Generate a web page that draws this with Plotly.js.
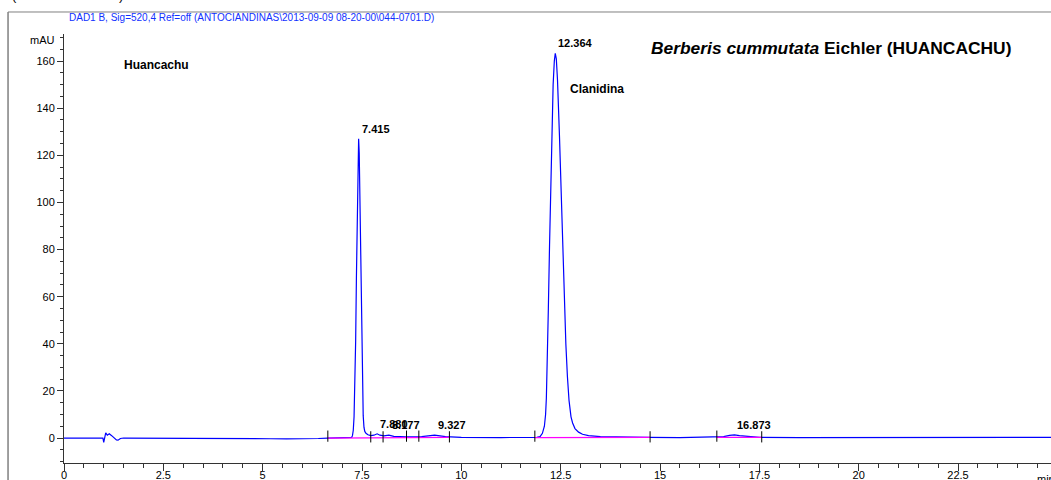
<!DOCTYPE html>
<html>
<head>
<meta charset="utf-8">
<script src="https://cdn.plot.ly/plotly-3.0.1.min.js"></script>
<style>html,body{margin:0;padding:0;background:#fff;}#chart{width:1051px;height:480px;}</style>
</head>
<body>
<div id="chart"></div>
<script>
// Chromatogram signal (retention time in min, absorbance in mAU)
const time = [0, 0.5, 0.98, 1.0, 1.02, 1.05, 1.09, 1.14, 1.2, 1.26, 1.32, 1.36, 1.42, 1.5, 2.0, 3.0, 4.0, 4.8, 5.2, 5.6, 6.0, 6.4, 6.64, 7.0,
  7.2, 7.24, 7.26, 7.28, 7.30, 7.32, 7.34, 7.36, 7.38, 7.40, 7.415, 7.43, 7.45, 7.47, 7.49, 7.51, 7.53, 7.55, 7.57, 7.60, 7.65, 7.72,
  7.80, 7.88, 7.95, 8.05, 8.177, 8.30, 8.6, 9.0, 9.327, 9.6, 10.0, 11.0, 11.6, 11.9, 11.98, 12.04, 12.09, 12.12, 12.14, 12.17, 12.19,
  12.22, 12.26, 12.31, 12.34, 12.364, 12.39, 12.42, 12.47, 12.51, 12.55, 12.59, 12.63, 12.67, 12.71, 12.76, 12.80, 12.86, 12.95, 13.05, 13.2, 13.5,
  14.0, 14.7, 15.5, 16.4, 16.6, 16.75, 16.873, 17.0, 17.2, 17.5, 18.5, 19.6, 20.0, 20.4, 22.0, 23.0, 24.84];
const mAU = [0, 0, 0, -1.8, 0.5, 2.2, 1.2, 1.8, 1.0, 0.2, -0.8, -0.9, -0.2, 0, 0, 0, 0, 0, -0.3, -0.4, -0.4, -0.2, 0, 0,
  0.1, 0.3, 1.0, 3.3, 9, 21, 41, 69, 99, 121, 127, 121, 99, 69, 41, 21, 9.5, 4.5, 2.8, 2.0, 1.4, 1.0,
  1.2, 1.8, 1.2, 0.9, 1.2, 0.7, 0.5, 0.6, 1.2, 0.6, 0.3, 0.2, 0.2, 0.3, 0.6, 2, 5, 10, 17, 35, 55,
  82, 118, 150, 160, 163.3, 161, 152, 128, 104, 82, 60, 40, 26, 16, 9, 6.4, 4, 2.5, 1.6, 1.0, 0.6,
  0.4, 0.3, 0.2, 0.3, 0.6, 1.1, 1.3, 1.0, 0.6, 0.3, 0.2, 0.2, 0.5, 0.2, 0.2, 0.3, 0.3];

// Integration baselines (magenta)
const baseT = [6.64, 9.70, null, 11.85, 14.75, null, 16.43, 17.56];
const baseY = [0, 0.3, null, 0.2, 0.3, null, 0.3, 0.3];

// Integration event marks
const eventT = [6.64, 7.72, 8.03, 8.62, 8.93, 9.70, 11.85, 14.75, 16.43, 17.56];
const eventY = [0.8, 0.5, 0.5, 0.8, 0.8, 0.5, 0.8, 0.5, 0.8, 0.5];

// Peak labels
const peakRT = [7.415, 7.88, 8.177, 9.327, 12.364, 16.873];
const peakH = [127, 1.8, 1.2, 1.2, 163.3, 1.3];

// Axis ticks
const xTickVals = [0, 2.5, 5, 7.5, 10, 12.5, 15, 17.5, 20, 22.5];
const xTickText = ['0', '2.5', '5', '7.5', '10', '12.5', '15', '17.5', '20', '22.5'];
const yTickVals = [0, 20, 40, 60, 80, 100, 120, 140, 160];
const yTickText = ['0', '20', '40', '60', '80', '100', '120', '140', '160'];

const FONT = 'Arial, "Liberation Sans", sans-serif';

const traces = [
  {x: time, y: mAU, type: 'scatter', mode: 'lines', line: {color: '#0000ff', width: 1.2}, hoverinfo: 'skip'},
  {x: baseT, y: baseY, type: 'scatter', mode: 'lines', line: {color: '#ff00ff', width: 1.3}, connectgaps: false, hoverinfo: 'skip'},
  {x: eventT, y: eventY, type: 'scatter', mode: 'markers', marker: {symbol: 'line-ns-open', size: 8, color: '#000', line: {color: '#000', width: 1}}, hoverinfo: 'skip'}
];

const annotations = peakRT.map((rt, i) => ({
  x: rt, y: peakH[i], xref: 'x', yref: 'y', text: rt.toFixed(3), showarrow: false,
  xanchor: 'left', yanchor: 'bottom', xshift: 1, yshift: 2,
  font: {family: FONT, size: 11, color: '#000', weight: 'bold'}
}));

annotations.push(
  {xref: 'paper', yref: 'paper', x: 0.003, y: 1.0396, xanchor: 'left', yanchor: 'middle', showarrow: false,
   text: 'DAD1 B, Sig=520,4 Ref=off (ANTOCIANDINAS\\2013-09-09 08-20-00\\044-0701.D)',
   font: {family: FONT, size: 10, color: '#1030ff'}},
  {xref: 'paper', yref: 'paper', x: 0.5927, y: 0.9674, xanchor: 'left', yanchor: 'middle', showarrow: false,
   text: '<b><i>Berberis cummutata</i> Eichler (HUANCACHU)</b>', font: {family: FONT, size: 17.4, color: '#000'}},
  {xref: 'paper', yref: 'paper', x: 0.0588, y: 0.9277, xanchor: 'left', yanchor: 'middle', showarrow: false,
   text: '<b>Huancachu</b>', font: {family: FONT, size: 12, color: '#000'}},
  {xref: 'paper', yref: 'paper', x: 0.5107, y: 0.8718, xanchor: 'left', yanchor: 'middle', showarrow: false,
   text: '<b>Clanidina</b>', font: {family: FONT, size: 12, color: '#000'}},
  {xref: 'paper', yref: 'y', x: 0, y: 169, xanchor: 'right', yanchor: 'middle', xshift: -7, showarrow: false,
   text: 'mAU', font: {family: FONT, size: 11, color: '#000'}},
  {xref: 'paper', yref: 'paper', x: 0.995, y: -0.018, xanchor: 'center', yanchor: 'top', showarrow: false,
   text: 'min', font: {family: FONT, size: 11, color: '#000'}},
  {xref: 'paper', yref: 'paper', x: -0.0547, y: 1.0676, xanchor: 'left', yanchor: 'bottom', showarrow: false,
   text: '(', font: {family: FONT, size: 13, color: '#000'}},
  {xref: 'paper', yref: 'paper', x: 0.0537, y: 1.0676, xanchor: 'left', yanchor: 'bottom', showarrow: false,
   text: ')', font: {family: FONT, size: 13, color: '#000'}}
);

const layout = {
  width: 1051, height: 480,
  margin: {l: 64, r: 0, t: 34, b: 17, pad: 0},
  paper_bgcolor: '#fff', plot_bgcolor: '#fff',
  showlegend: false,
  font: {family: FONT, size: 11, color: '#000'},
  xaxis: {
    range: [0, 24.84], showgrid: false, zeroline: false,
    showline: true, linecolor: '#333', linewidth: 1,
    tickmode: 'array', tickvals: xTickVals, ticktext: xTickText,
    ticks: 'outside', ticklen: 7, tickcolor: '#333', tickwidth: 1,
    ticklabelstandoff: -5,
    tickfont: {family: FONT, size: 11, color: '#000'},
    minor: {tickmode: 'linear', tick0: 0, dtick: 0.5, ticks: 'outside', ticklen: 4, tickcolor: '#333', showgrid: false}
  },
  yaxis: {
    range: [-10.6, 171.5], showgrid: false, zeroline: false,
    showline: true, linecolor: '#333', linewidth: 1,
    tickmode: 'array', tickvals: yTickVals, ticktext: yTickText,
    ticks: 'outside', ticklen: 6, tickcolor: '#333', tickwidth: 1,
    tickfont: {family: FONT, size: 11, color: '#000'},
    minor: {tickmode: 'linear', tick0: 0, dtick: 5, ticks: 'outside', ticklen: 3, tickcolor: '#333', showgrid: false}
  },
  shapes: [
    {type: 'line', xref: 'paper', yref: 'paper', x0: -0.0567, x1: -0.0567, y0: 1.0513, y1: -0.05, line: {color: '#808080', width: 1.5}},
    {type: 'line', xref: 'paper', yref: 'paper', x0: -0.0567, x1: 1.01, y0: 1.0513, y1: 1.0513, line: {color: '#808080', width: 1}}
  ],
  annotations: annotations
};

Plotly.newPlot('chart', traces, layout, {staticPlot: true, displayModeBar: false});
</script>
</body>
</html>
